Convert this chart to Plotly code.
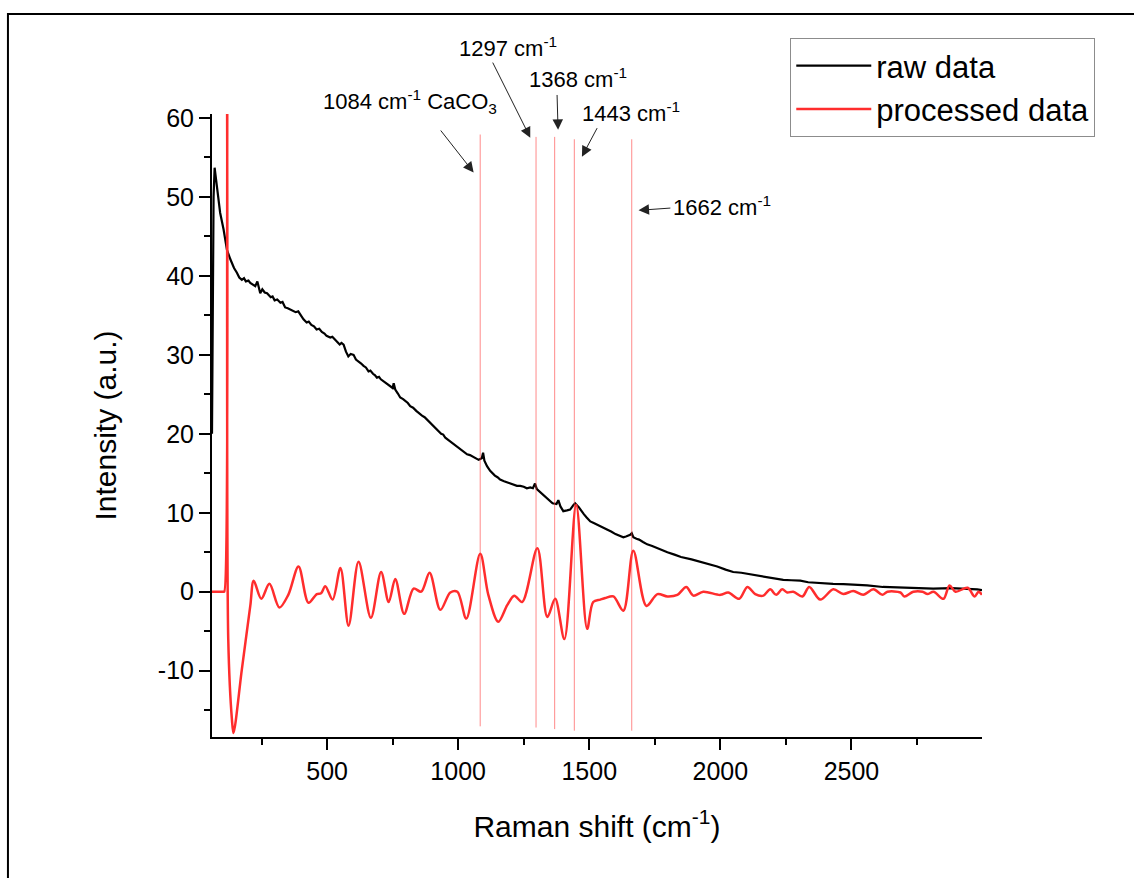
import plotly.graph_objects as go

# ---------------- data ----------------
raw_x = [61, 64, 67, 71, 80, 92, 105, 118, 131, 145, 156, 165, 175, 183, 190, 200, 207, 218, 226, 234,
         240, 245, 253, 262, 271, 278, 285, 292, 300, 310, 322, 330, 340, 350, 360, 370, 380, 390, 398, 410,
         422, 430, 440, 450, 460, 470, 480, 490, 498, 512, 520, 530, 540, 548, 555, 563, 572, 581, 590, 601,
         610, 620, 630, 639, 648, 658, 665, 675, 683, 690, 698, 705, 713, 722, 731, 740, 750, 754, 760, 770,
         779, 790, 800, 808, 817, 828, 840, 850, 862, 872, 881, 890, 900, 910, 919, 928, 935, 943, 951, 963,
         975, 985, 996, 1005, 1015, 1025, 1034, 1045, 1055, 1065, 1078, 1090, 1095, 1100, 1110, 1122, 1130, 1140, 1150, 1160,
         1175, 1190, 1205, 1224, 1237, 1250, 1262, 1275, 1285, 1293, 1300, 1310, 1320, 1330, 1340, 1350, 1360, 1375, 1382, 1390,
         1401, 1415, 1427, 1440, 1446, 1460, 1473, 1480, 1490, 1504, 1517, 1530, 1542, 1554, 1570, 1585, 1600, 1618, 1630, 1640,
         1656, 1662, 1668, 1680, 1690, 1705, 1721, 1740, 1760, 1780, 1798, 1825, 1850, 1890, 1924, 1955, 1988, 2020, 2049, 2080,
         2114, 2150, 2179, 2210, 2240, 2270, 2305, 2335, 2369, 2400, 2430, 2470, 2500, 2560, 2620, 2686, 2750, 2812, 2880, 2942,
         2980, 2998]
raw_y = [20, 40, 50, 53.7, 51, 48, 45.9, 43.3, 42.1, 41.0, 40.4, 39.8, 39.5, 39.7, 39.3, 39.4, 39.1, 38.9, 38.7, 39.3,
         38.2, 37.8, 38.3, 37.9, 37.8, 37.5, 37.3, 37.4, 36.9, 37.0, 36.6, 36.7, 36.0, 35.9, 35.7, 35.6, 35.4, 35.5, 35.1, 34.5,
         34.1, 34.2, 33.8, 33.6, 33.2, 33.3, 32.9, 32.7, 32.4, 32.2, 32.3, 31.9, 31.5, 31.3, 31.5, 31.3, 30.4, 29.8, 30.1, 30.0,
         29.4, 29.2, 28.9, 28.6, 28.4, 27.9, 28.0, 27.6, 27.4, 27.1, 27.2, 26.9, 26.7, 26.5, 26.3, 26.1, 25.8, 26.4, 25.6, 25.1,
         24.6, 24.4, 24.1, 23.9, 23.5, 23.3, 22.9, 22.6, 22.3, 22.1, 21.8, 21.6, 21.2, 20.9, 20.5, 20.3, 20.0, 19.9, 19.5, 19.2,
         18.9, 18.7, 18.4, 18.2, 17.9, 17.7, 17.4, 17.3, 17.1, 16.9, 16.7, 16.9, 17.6, 16.6, 15.9, 15.3, 15.0, 14.7, 14.5, 14.2,
         14.0, 13.8, 13.7, 13.4, 13.4, 13.3, 13.1, 13.2, 13.1, 13.7, 13.0, 12.7, 12.4, 12.0, 11.7, 11.5, 11.2, 11.1, 11.6, 10.8,
         10.2, 10.3, 10.4, 11.0, 11.2, 10.7, 10.0, 9.8, 9.4, 8.9, 8.7, 8.5, 8.3, 8.1, 7.9, 7.6, 7.3, 7.0, 6.9, 7.0,
         7.2, 7.4, 6.9, 6.7, 6.6, 6.3, 6.0, 5.8, 5.5, 5.2, 5.0, 4.7, 4.4, 4.1, 3.8, 3.5, 3.2, 2.8, 2.5, 2.4,
         2.2, 2.0, 1.8, 1.6, 1.5, 1.45, 1.4, 1.2, 1.1, 1.05, 1.0, 0.95, 0.9, 0.8, 0.6, 0.5, 0.45, 0.4, 0.45, 0.4,
         0.3, 0.2]

proc_x = [61, 106, 108, 110, 112, 123, 137, 143, 175, 207, 220, 249, 280, 318, 352,
          391, 429, 461, 477, 493, 521, 551, 582, 620, 667, 706, 735, 760, 794, 830, 859, 891, 932, 970, 997,
          1031, 1084, 1115, 1153, 1187, 1214, 1244, 1302, 1340, 1370, 1405, 1450, 1492, 1515, 1542, 1561, 1592, 1630, 1668, 1718,
          1760, 1798, 1836, 1870, 1897, 1935, 2000, 2030, 2072, 2103, 2133, 2164, 2190, 2213, 2236, 2255, 2278, 2313, 2339, 2381,
          2431, 2469, 2507, 2545, 2584, 2618, 2637, 2687, 2702, 2736, 2771, 2790, 2813, 2851, 2874, 2897, 2943, 2970, 2985, 2998]
proc_y = [0, 0, 0, 300, 300, -6, -16.2, -17.9, -9.8, -1.8, 1.4, -0.9, 1.0, -2.0, -0.4,
          3.2, -1.4, -0.3, -0.2, 0.7, -1.0, 3.0, -4.3, 3.8, -3.3, 2.5, -1.3, 1.6, -2.8, 0.4, 0.0, 2.4, -2.3, -0.1, 0.0,
          -3.4, 4.8, -0.4, -3.8, -1.7, -0.5, -1.3, 5.5, -3.2, -0.9, -6.0, 11.0, -4.7, -1.3, -1.0, -0.8, -0.6, -2.4, 5.2, -1.8,
          -0.3, -0.6, -0.4, 0.6, -0.5, 0.0, -0.4, -0.1, -0.9, 0.6, -0.3, -0.5, 0.3, -0.4, 0.3, -0.1, 0.0, -0.6, 0.6, -1.0,
          0.3, -0.3, 0.1, -0.4, 0.3, -0.4, 0.0, -0.1, -0.6, 0.0, 0.0, -0.3, 0.0, -0.9, 0.8, 0.0, 0.5, -0.6, 0.0, -0.4]

peak_pos = [1084, 1297, 1368, 1443, 1662]
peak_line_top = [57.9, 57.6, 57.6, 57.3, 57.3]
peak_line_bottom = [-17.05, -17.2, -17.4, -17.6, -17.6]

labels = ["1084 cm<sup>-1</sup> CaCO<sub>3</sub>", "1297 cm<sup>-1</sup>", "1368 cm<sup>-1</sup>",
          "1443 cm<sup>-1</sup>", "1662 cm<sup>-1</sup>"]
label_x = [817, 1191, 1458, 1660, 2007]
label_y = [62.1, 69.0, 65.0, 60.8, 48.8]
arrow_tail_x = [929, 1129, 1377, 1533, 1815]
arrow_tail_y = [58.6, 67.2, 63.1, 58.9, 48.6]
arrow_head_x = [1059, 1275, 1381, 1472, 1688]
arrow_head_y = [53.1, 57.5, 58.5, 55.1, 48.3]

x_range = [61, 2998]
y_range = [-18.4, 60.5]
y_major = [-10, 0, 10, 20, 30, 40, 50, 60]
y_major_text = ["-10", "0", "10", "20", "30", "40", "50", "60"]
y_minor = [-15, -5, 5, 15, 25, 35, 45, 55]

FONT = "Liberation Sans, Arial, sans-serif"

fig = go.Figure()
fig.add_trace(go.Scatter(x=raw_x, y=raw_y, mode="lines", name="raw data",
                         line=dict(color="black", width=2.2)))
fig.add_trace(go.Scatter(x=proc_x, y=proc_y, mode="lines", name="processed data",
                         line=dict(color="rgb(255,45,45)", width=2.5, shape="spline", smoothing=0.9)))

for px, yt, yb in zip(peak_pos, peak_line_top, peak_line_bottom):
    fig.add_shape(type="line", xref="x", yref="y", x0=px, x1=px, y0=yb, y1=yt,
                  line=dict(color="rgba(255,60,60,0.6)", width=1))

ysp = y_range[1] - y_range[0]
for t, lx, ly in zip(labels, label_x, label_y):
    fig.add_annotation(x=lx, y=(ly - y_range[0]) / ysp, xref="x", yref="paper", text=t, showarrow=False,
                       font=dict(family=FONT, size=22, color="black"), xanchor="center", yanchor="middle")

for tx, ty, hx, hy in zip(arrow_tail_x, arrow_tail_y, arrow_head_x, arrow_head_y):
    fig.add_annotation(x=hx, y=hy, xref="x", yref="y", ax=tx, ay=ty, axref="x", ayref="y",
                       text="", showarrow=True, arrowhead=2, arrowsize=2.1, arrowwidth=1,
                       arrowcolor="#222", standoff=0, startstandoff=0)

# outer frame
fig.add_shape(type="rect", xref="paper", yref="paper", x0=-0.265, x1=1.3, y0=-0.3, y1=1.1605,
              line=dict(color="black", width=2), fillcolor="rgba(0,0,0,0)", layer="below")

fig.update_layout(
    width=1134, height=878,
    margin=dict(l=212, r=152, t=114, b=141),
    paper_bgcolor="white", plot_bgcolor="white",
    font=dict(family=FONT, color="black"),
    legend=dict(x=0.751, y=1.122, xanchor="left", yanchor="top",
                font=dict(family=FONT, size=31, color="black"),
                bordercolor="#8c8c8c", borderwidth=1, bgcolor="white",
                itemwidth=75, tracegroupgap=0),
    showlegend=True,
)
fig.update_xaxes(range=x_range, showline=True, linecolor="black", linewidth=2, mirror=False,
                 showgrid=False, zeroline=False, ticks="outside", ticklen=11, tickwidth=2,
                 tickcolor="black", tick0=0, dtick=500,
                 minor=dict(ticks="outside", ticklen=6, tickwidth=2, tickcolor="black", dtick=250, tick0=0),
                 tickfont=dict(family=FONT, size=25, color="black"),
                 title=dict(text="Raman shift (cm<sup>-1</sup>)", font=dict(family=FONT, size=30, color="black"),
                            standoff=32),
                 automargin=False)
fig.update_yaxes(range=y_range, showline=True, linecolor="black", linewidth=2, mirror=False,
                 showgrid=False, zeroline=False, ticks="outside", ticklen=11, tickwidth=2,
                 tickcolor="black", tickmode="array", tickvals=y_major, ticktext=y_major_text,
                 minor=dict(ticks="outside", ticklen=6, tickwidth=2, tickcolor="black",
                            tickmode="array", tickvals=y_minor),
                 tickfont=dict(family=FONT, size=25, color="black"),
                 title=dict(text="Intensity (a.u.)", font=dict(family=FONT, size=30, color="black"),
                            standoff=32),
                 automargin=False)

fig.write_html("out.html")
